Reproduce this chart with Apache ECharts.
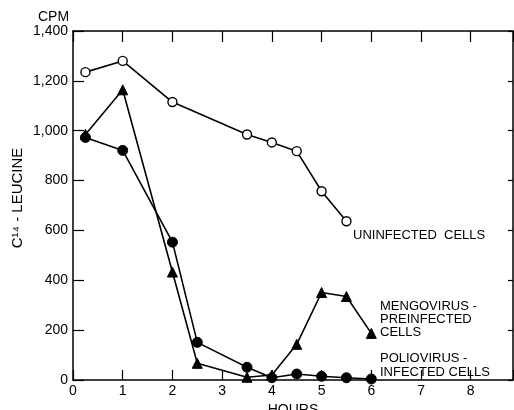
<!DOCTYPE html>
<html><head><meta charset="utf-8">
<script src="https://cdn.jsdelivr.net/npm/echarts@6/dist/echarts.min.js"></script>
<style>html,body{margin:0;padding:0;background:#fff}#c{width:514px;height:410px}</style>
</head><body><div id="c"></div>
<script>
const hours = [0.25, 1, 2, 2.5, 3.5, 4, 4.5, 5, 5.5, 6];
const uninfectedHours = [0.25, 1, 2, 3.5, 4, 4.5, 5, 5.5];
const uninfected = [1235, 1280, 1115, 985, 953, 918, 757, 637];
const mengovirus = [985, 1164, 433, 67, 11, 20, 143, 351, 335, 187];
const poliovirus = [973, 921, 553, 151, 51, 9, 24, 15, 9, 4];
const xTicks = [0, 1, 2, 3, 4, 5, 6, 7, 8];
const yTicks = [0, 200, 400, 600, 800, 1000, 1200, 1400];

const FONT = 'Liberation Sans';
const pair = (xs, ys) => xs.map((x, i) => [x, ys[i]]);
const fmtY = v => yTicks.includes(v) ? v.toLocaleString('en-US') : '';
const fmtX = v => xTicks.includes(v) ? String(v) : '';
const lineStyle = {color: '#000', width: 1.6};
const axLine = {show: true, onZero: false, lineStyle: {color: '#000', width: 1.5}};

const chart = echarts.init(document.getElementById('c'), null, {renderer: 'canvas'});
chart.setOption({
  backgroundColor: '#fff',
  animation: false,
  grid: {left: 73, right: 1, top: 31, bottom: 30, containLabel: false, outerBoundsMode: 'none'},
  xAxis: [{
    type: 'value', position: 'bottom', min: 0, max: 8.85, interval: 1,
    axisLine: axLine,
    axisTick: {inside: true, length: 10, lineStyle: {color: '#000', width: 1.2}},
    axisLabel: {formatter: fmtX, color: '#000', fontFamily: FONT, fontSize: 14, margin: 4},
    splitLine: {show: false},
    name: 'HOURS', nameLocation: 'middle', nameGap: 21,
    nameTextStyle: {color: '#000', fontFamily: FONT, fontSize: 14}
  }, {
    type: 'value', position: 'top', min: 0, max: 8.85, interval: 1,
    axisLine: axLine,
    axisTick: {inside: true, length: 11, lineStyle: {color: '#000', width: 1.2}},
    axisLabel: {show: false}, splitLine: {show: false}
  }],
  yAxis: [{
    type: 'value', position: 'left', min: 0, max: 1400, interval: 200,
    axisLine: axLine,
    axisTick: {show: true, inside: true, length: 11, lineStyle: {color: '#000', width: 1.2}},
    axisLabel: {formatter: fmtY, color: '#000', fontFamily: FONT, fontSize: 14, margin: 5},
    splitLine: {show: false}
  }, {
    type: 'value', position: 'right', min: 0, max: 1400, interval: 200,
    axisLine: axLine,
    axisTick: {show: true, inside: true, length: 5, lineStyle: {color: '#000', width: 1.2}},
    axisLabel: {show: false}, splitLine: {show: false}
  }],
  graphic: [
    {type: 'text', left: 38, top: 10, style: {text: 'CPM', font: '14px ' + FONT, fill: '#000'}},
    {type: 'text', x: 18, y: 198, rotation: Math.PI / 2, style: {text: 'C¹⁴ - LEUCINE', font: '15px ' + FONT, fill: '#000', align: 'center', verticalAlign: 'middle'}},
    {type: 'text', left: 353, top: 229, style: {text: 'UNINFECTED  CELLS', font: '13px ' + FONT, fill: '#000'}},
    {type: 'text', left: 380, top: 300, style: {text: 'MENGOVIRUS -\nPREINFECTED\nCELLS', font: '13px ' + FONT, fill: '#000', lineHeight: 13}},
    {type: 'text', left: 380, top: 351, style: {text: 'POLIOVIRUS -\nINFECTED CELLS', font: '13px ' + FONT, fill: '#000', lineHeight: 14}}
  ],
  series: [{
    type: 'line', name: 'Uninfected', data: pair(uninfectedHours, uninfected),
    symbol: 'circle', symbolSize: 9,
    itemStyle: {color: '#fff', borderColor: '#000', borderWidth: 1.4},
    lineStyle: lineStyle, z: 3
  }, {
    type: 'line', name: 'Mengovirus', data: pair(hours, mengovirus),
    symbol: 'triangle', symbolSize: 10,
    itemStyle: {color: '#000', borderColor: '#000'},
    lineStyle: lineStyle, z: 3
  }, {
    type: 'line', name: 'Poliovirus', data: pair(hours, poliovirus),
    symbol: 'circle', symbolSize: 10,
    itemStyle: {color: '#000', borderColor: '#000'},
    lineStyle: lineStyle, z: 3
  }]
});
</script></body></html>
